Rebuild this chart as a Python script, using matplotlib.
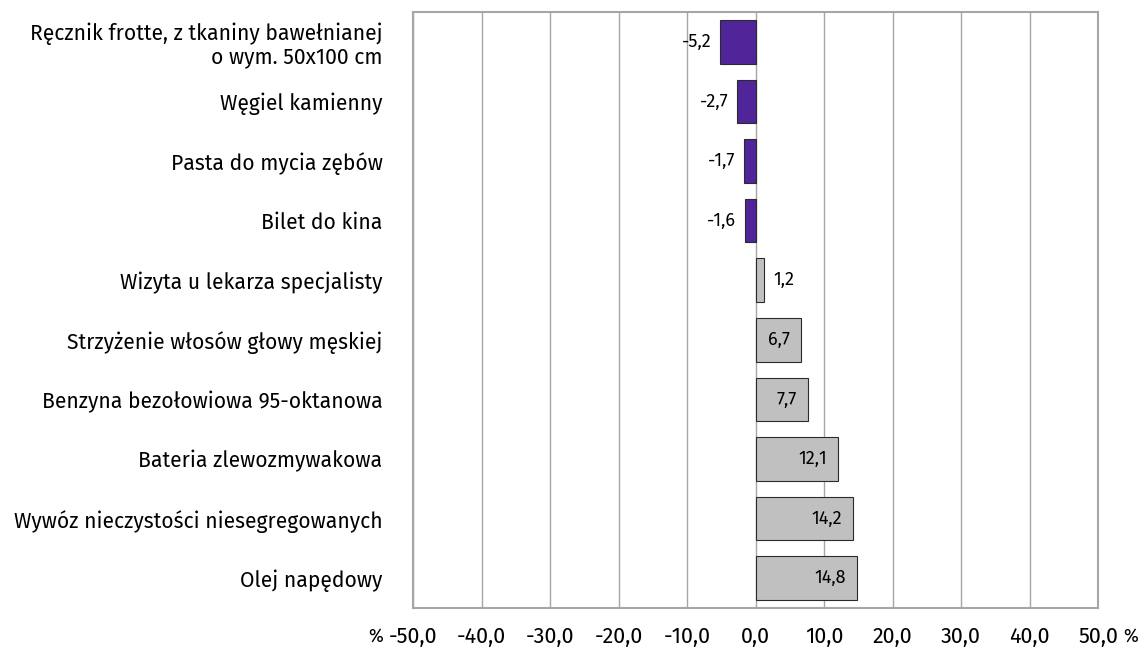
import numpy as np
import matplotlib.pyplot as plt

categories = [
    "Ręcznik frotte, z tkaniny bawełnianej\no wym. 50x100 cm",
    "Węgiel kamienny",
    "Pasta do mycia zębów",
    "Bilet do kina",
    "Wizyta u lekarza specjalisty",
    "Strzyżenie włosów głowy męskiej",
    "Benzyna bezołowiowa 95-oktanowa",
    "Bateria zlewozmywakowa",
    "Wywóz nieczystości niesegregowanych",
    "Olej napędowy",
]
values = [-5.2, -2.7, -1.7, -1.6, 1.2, 6.7, 7.7, 12.1, 14.2, 14.8]
xticks = [-50, -40, -30, -20, -10, 0, 10, 20, 30, 40, 50]

plt.rcParams['font.family'] = ['Fira Sans', 'Noto Sans', 'DejaVu Sans']

fig = plt.figure(figsize=(11.41, 6.49), dpi=100)
ax = fig.add_axes([413 / 1141, 1 - 608 / 649, 685 / 1141, 596 / 649])

y = np.arange(len(values))
colors = ['#50259A' if v < 0 else '#C0C0C0' for v in values]
ax.barh(y, values, height=0.73, color=colors, edgecolor='#2B2B2B', linewidth=0.8, zorder=3)

ax.set_xlim(-50, 50)
ax.set_ylim(len(values) - 0.5, -0.5)
ax.set_xticks(xticks)
ax.set_xticklabels([f"{t:.1f}".replace('.', ',') for t in xticks], fontsize=15.5)
ax.set_yticks(y)
ax.set_yticklabels(categories, fontsize=15.2, linespacing=1.1)
ax.tick_params(axis='both', length=0)
ax.tick_params(axis='x', pad=13)
ax.tick_params(axis='y', pad=22)
ax.grid(axis='x', color='#A6A6A6', linewidth=1, zorder=0)
for s in ax.spines.values():
    s.set_color('#A6A6A6')
    s.set_linewidth(1.5)
    s.set_zorder(4)

for yi, v in zip(y, values):
    lab = f"{v:.1f}".replace('.', ',')
    if v < 0:
        ax.annotate(lab, (v, yi), xytext=(-6, 0), textcoords='offset points',
                    ha='right', va='center', fontsize=13, zorder=5)
    elif v < 3:
        ax.annotate(lab, (v, yi), xytext=(7, 0), textcoords='offset points',
                    ha='left', va='center', fontsize=13, zorder=5)
    else:
        ax.annotate(lab, (v, yi), xytext=(-8, 0), textcoords='offset points',
                    ha='right', va='center', fontsize=13, zorder=5)

fig.text(376 / 1141, 1 - 636 / 649, '%', fontsize=13, ha='center', va='center')
fig.text(1131 / 1141, 1 - 636 / 649, '%', fontsize=13, ha='center', va='center')

fig.savefig('out.png', dpi=100)
